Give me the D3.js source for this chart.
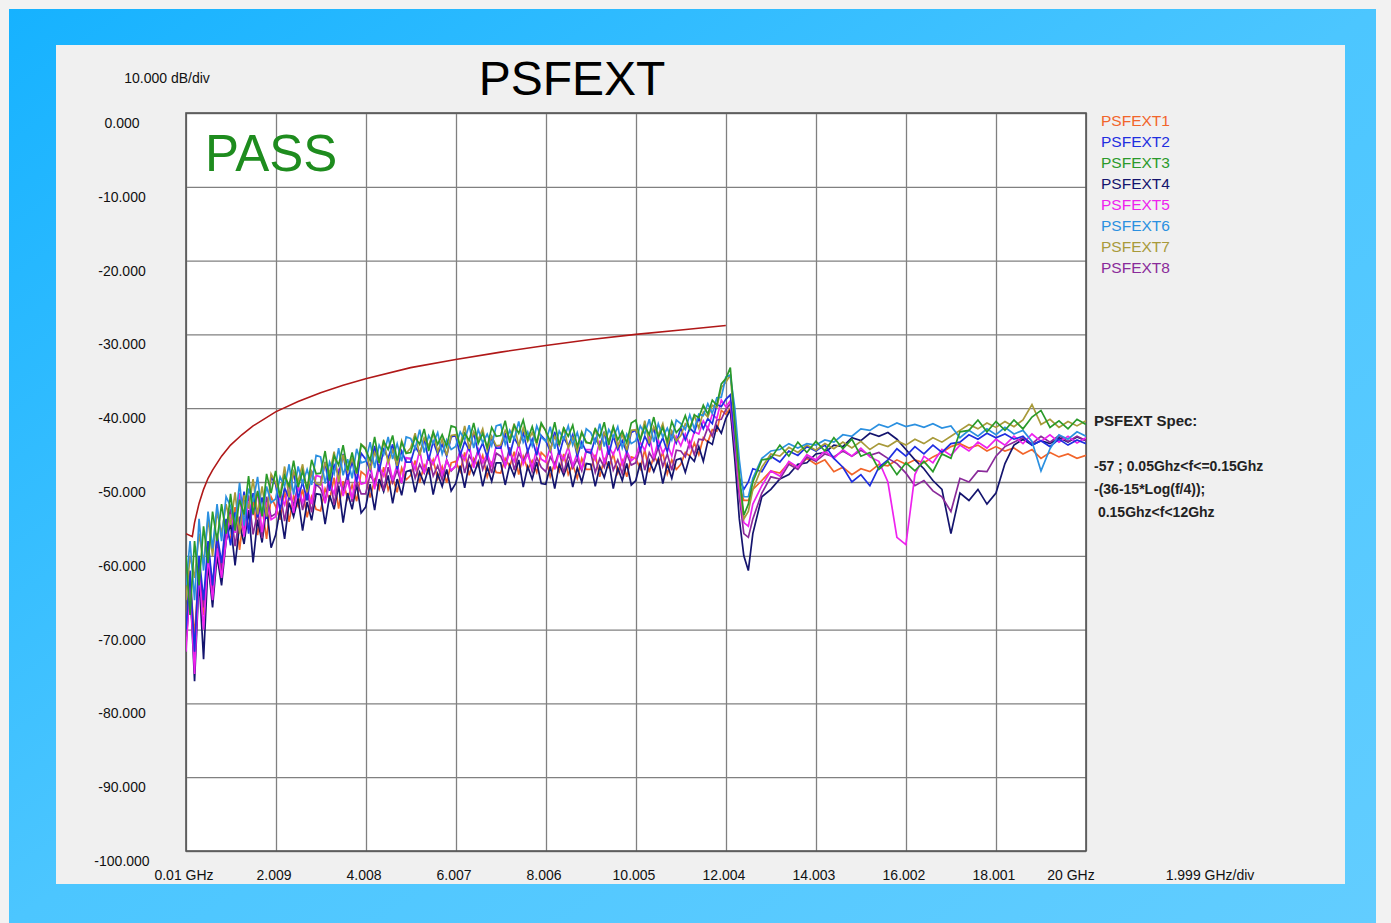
<!DOCTYPE html>
<html>
<head>
<meta charset="utf-8">
<script src="https://cdn.jsdelivr.net/npm/d3@7"></script>
<style>
  body { margin: 0; background: #f2f2f2; }
  svg { display: block; font-family: "Liberation Sans", Arial, sans-serif; }
</style>
</head>
<body>
<svg id="chart" width="1391" height="923"></svg>
<script>
// frequency grid (GHz) shared by all traces
const freqs = [0.01,0.1,0.2,0.3,0.4,0.5,0.6,0.7,0.8,0.9,
  1.0,1.1,1.2,1.3,1.4,1.5,1.6,1.7,1.8,1.9,
  2.0,2.1,2.2,2.3,2.4,2.5,2.6,2.7,2.8,2.9,
  3.0,3.1,3.2,3.3,3.4,3.5,3.6,3.7,3.8,3.9,
  4.0,4.1,4.2,4.3,4.4,4.5,4.6,4.7,4.8,4.9,
  5.0,5.1,5.2,5.3,5.4,5.5,5.6,5.7,5.8,5.9,
  6.0,6.1,6.2,6.3,6.4,6.5,6.6,6.7,6.8,6.9,
  7.0,7.1,7.2,7.3,7.4,7.5,7.6,7.7,7.8,7.9,
  8.0,8.1,8.2,8.3,8.4,8.5,8.6,8.7,8.8,8.9,
  9.0,9.1,9.2,9.3,9.4,9.5,9.6,9.7,9.8,9.9,
  10.0,10.1,10.2,10.3,10.4,10.5,10.6,10.7,10.8,10.9,
  11.0,11.1,11.2,11.3,11.4,11.5,11.6,11.7,11.8,11.9,
  12.0,12.1,12.2,12.3,12.4,12.5,12.6,12.8,13.0,13.2,
  13.4,13.6,13.8,14.0,14.2,14.4,14.6,14.8,15.0,15.2,
  15.4,15.6,15.8,16.0,16.2,16.4,16.6,16.8,17.0,17.2,
  17.4,17.6,17.8,18.0,18.2,18.4,18.6,18.8,19.0,19.2,
  19.4,19.6,19.8,20.0];

const psfext1 = [-69,-63,-71,-61,-68,-59,-64,-58,-62,-57,
  -57.7,-53.4,-59.2,-54.1,-56.1,-52.2,-57.2,-53.5,-57.7,-52,
  -53.3,-55.1,-51.2,-55.4,-51.9,-53.3,-51,-54.8,-52,-53.7,
  -53.9,-50.9,-52.4,-49.4,-53.6,-49.9,-52.3,-50.4,-52.6,-48.6,
  -49.1,-52.1,-49.7,-51,-48,-51.1,-49.4,-51.4,-48.1,-49.7,
  -49.1,-47.1,-50.1,-47.7,-48.8,-47,-49.6,-47.9,-50.1,-47.4,
  -47.2,-48.6,-46,-49.1,-46.8,-47.9,-46.4,-49.3,-47.4,-48.7,
  -48.8,-46.8,-47.9,-45.9,-49,-46.5,-48.3,-47.1,-48.7,-46,
  -46.6,-49.3,-47.4,-48.6,-46.2,-49,-47.6,-49.5,-46.8,-48.3,
  -48.3,-46.3,-49.3,-46.9,-48,-46.2,-48.8,-47.1,-49.3,-46.6,
  -46.8,-48.2,-45.6,-48.7,-46.4,-47.5,-46,-48.9,-47,-48.3,
  -47.6,-46,-46.5,-44.7,-46.3,-44,-44.6,-42.9,-43.1,-40.3,
  -40.8,-40,-45.5,-50.5,-52.5,-52.5,-51,-49.8,-48.5,-48.8,
  -47.4,-48,-46.8,-47.6,-47,-48.6,-48,-49,-48.2,-48.6,
  -47.6,-47.8,-47,-47.6,-47,-47.4,-46.6,-46,-45.2,-44.8,
  -45.4,-45,-45.8,-45.2,-45.8,-45.4,-46.2,-45.6,-46.8,-46,
  -46.6,-46.2,-46.8,-46.4];

const psfext2 = [-70,-62,-73,-60,-66,-58,-64,-57,-61,-55,
  -58.6,-54.1,-55.8,-51.3,-57,-51.5,-54.8,-52.1,-55,-49.3,
  -50.3,-53.8,-50.8,-52.2,-48.6,-52.2,-50,-52.5,-48.5,-50.4,
  -50.3,-47.3,-51.2,-47.7,-49,-46.2,-49.7,-47.2,-50,-46.1,
  -46.9,-48.4,-45.1,-48.6,-45.6,-46.8,-44.9,-48.3,-45.8,-47.3,
  -47.3,-45.2,-46.2,-44.1,-47.1,-44.5,-46.2,-44.9,-46.5,-43.9,
  -43.7,-46.4,-44.5,-45.7,-43.3,-46.1,-44.7,-46.6,-43.9,-45.4,
  -45.4,-43.4,-46.4,-44,-45.1,-43.3,-45.9,-44.2,-46.4,-43.7,
  -44.4,-45.8,-43.2,-46.3,-44,-45.1,-43.6,-46.5,-44.6,-45.9,
  -46.1,-44.1,-45.2,-43.2,-46.3,-43.8,-45.6,-44.4,-46,-43.3,
  -43,-45.7,-43.8,-45,-42.6,-45.4,-44,-45.9,-43.2,-44.7,
  -42.7,-44.3,-42.7,-43.3,-41.3,-42.8,-41.4,-42.1,-39.5,-39.8,
  -38.8,-38.2,-44,-49.5,-51,-50,-48.2,-48.6,-46.5,-47.3,
  -45.8,-46.4,-45.2,-45.8,-45,-46.8,-48,-50,-49,-50.5,
  -48,-47,-45.5,-46.5,-45.2,-46.2,-45,-46,-44.8,-44.6,
  -43.6,-44.2,-43.4,-44,-43.5,-44.2,-43.8,-45,-44.4,-45.2,
  -44.2,-45,-44.3,-44.8];

const psfext3 = [-60,-68,-58,-64,-56,-61,-54,-58,-53,-57,
  -51.6,-56.6,-52.4,-54.4,-49.2,-54.4,-51.2,-54.6,-48.9,-51.5,
  -48.5,-52.1,-49.1,-50.6,-47.1,-50.7,-48.5,-51,-47,-48.9,
  -48.8,-45.8,-49.8,-46.4,-47.7,-45,-48.4,-46,-48.8,-44.9,
  -45.6,-47.1,-43.9,-47.4,-44.5,-45.6,-43.7,-47.1,-44.6,-46.1,
  -46,-43.9,-44.9,-42.8,-45.8,-43.2,-44.9,-43.6,-45.2,-42.4,
  -42.6,-45.3,-43.4,-44.4,-42,-44.8,-43.4,-45.3,-42.6,-43.8,
  -43.7,-41.7,-44.7,-42.3,-43.4,-41.6,-44.2,-42.5,-44.7,-42,
  -43.1,-44.5,-41.9,-45,-42.7,-43.8,-42.3,-45.2,-43.3,-44.6,
  -44.8,-42.8,-43.9,-41.9,-45,-42.5,-44.3,-43.1,-44.7,-42,
  -41.6,-44.3,-42.4,-43.6,-41.2,-44,-42.6,-44.5,-41.8,-43.3,
  -42.6,-41,-42.9,-40.9,-41.3,-39.6,-40.8,-38.9,-39.6,-36.7,
  -36,-34.5,-42,-49,-54.5,-53,-50,-47,-46.8,-45,
  -46.5,-44.6,-46,-44.5,-45.8,-44,-45.5,-44.2,-46.5,-46,
  -48.3,-47.2,-49,-47.4,-48.5,-47.2,-48.6,-46.2,-46.8,-43.2,
  -43,-41.6,-43.2,-41.8,-43,-41.6,-42.8,-41.2,-40.3,-42.6,
  -41.7,-42.8,-41.5,-42.2];

const psfext4 = [-72,-64,-77,-63,-74,-61,-67,-60,-64,-58,
  -55.6,-61.3,-55.7,-58.4,-53.8,-60.9,-55.1,-58.2,-53.4,-58.9,
  -57.2,-53.7,-57.7,-52.8,-54.7,-52.2,-56.6,-52.7,-55.2,-51.6,
  -51.7,-55.7,-51.8,-53.7,-50.5,-55.5,-51.5,-53.7,-50.3,-54.2,
  -53.4,-50.3,-53.8,-49.6,-51.3,-49.1,-52.9,-49.6,-51.8,-48.6,
  -48.4,-51.4,-48.7,-50.2,-48,-51.7,-48.9,-50.6,-48.3,-51.2,
  -50.2,-47.8,-50.8,-47.5,-49,-47.3,-50.6,-48,-49.9,-47.4,
  -47.4,-50.4,-47.7,-49.2,-47,-50.7,-47.9,-49.6,-47.3,-50.2,
  -50.3,-47.9,-50.9,-47.6,-49.1,-47.4,-50.7,-48.1,-50,-47.5,
  -47.6,-50.6,-47.9,-49.4,-47.2,-50.9,-48.1,-49.8,-47.5,-50.4,
  -49.8,-47.4,-50.4,-47.1,-48.6,-46.9,-50.2,-47.6,-49.5,-47,
  -46.8,-48.7,-46.5,-47.2,-45.2,-47.2,-44.5,-44.9,-42.4,-43.4,
  -41.4,-40.2,-47,-55,-60,-62,-57,-52,-51,-49.6,
  -49,-47.6,-47.4,-46.2,-46,-45,-45.2,-44,-44.4,-43.4,
  -43.8,-43.3,-44.2,-45.6,-47,-48.2,-49.8,-51,-57,-51.5,
  -52.5,-51,-53,-51.5,-47.5,-45,-44.2,-45,-44.4,-44.8,
  -44,-44.6,-43.9,-44.4];

const psfext5 = [-73,-64,-76,-62,-70,-60,-66,-59,-63,-58,
  -54.4,-56.9,-51.5,-57.4,-52.6,-54.5,-51.3,-56.8,-52.8,-55.1,
  -54.7,-51.7,-53.1,-50.1,-54.2,-50.5,-52.8,-50.9,-53,-49.1,
  -49.3,-52.9,-50.1,-51.6,-48.2,-51.9,-49.8,-52.3,-48.4,-50.3,
  -50.1,-47.5,-51,-47.9,-49.2,-46.8,-49.8,-47.6,-50.1,-46.7,
  -46.9,-48.3,-45.7,-48.8,-46.5,-47.6,-46.1,-49,-47.1,-48.4,
  -47.9,-45.9,-47,-45,-48.1,-45.6,-47.4,-46.2,-47.8,-45.1,
  -45.2,-47.9,-46,-47.2,-44.8,-47.6,-46.2,-48.1,-45.4,-46.9,
  -47.3,-45.3,-48.3,-45.9,-47,-45.2,-47.8,-46.1,-48.3,-45.6,
  -45.6,-47,-44.4,-47.5,-45.2,-46.3,-44.8,-47.7,-45.8,-47.1,
  -46.6,-44.6,-45.7,-43.7,-46.8,-44.3,-46.1,-44.9,-46.5,-43.8,
  -45.1,-43.5,-45.3,-43.2,-43.5,-41.7,-42.8,-40.8,-41.4,-38.9,
  -39.8,-39,-44.5,-51,-55.5,-56,-53,-50.5,-48.5,-49.2,
  -47.2,-48,-46.3,-47,-45.8,-46.8,-45.6,-46.5,-45.4,-46.6,
  -47.2,-50,-57.5,-58.5,-49,-46.5,-47.4,-45.6,-46.4,-45,
  -45.8,-44.6,-45.4,-44.2,-45,-43.8,-44.8,-43.5,-44.5,-43.6,
  -44.6,-43.8,-44.7,-44];

const psfext6 = [-64,-58,-66,-55,-62,-54,-59,-53,-58,-52,
  -53.3,-55.7,-50.1,-55.9,-50.9,-52.7,-49.3,-54.7,-50.6,-52.8,
  -52.3,-49.3,-50.6,-47.6,-51.7,-47.9,-50.2,-48.3,-50.4,-46.4,
  -46.6,-50.2,-47.3,-48.9,-45.4,-49.1,-46.9,-49.5,-45.5,-47.4,
  -47.2,-44.6,-48.1,-45,-46.3,-43.9,-46.9,-44.8,-47.2,-43.9,
  -44.1,-45.5,-42.9,-46,-43.7,-44.8,-43.3,-46.2,-44.3,-45.6,
  -45.2,-43.2,-44.3,-42.3,-45.4,-42.9,-44.7,-43.5,-45.1,-42.4,
  -42.2,-44.9,-43,-44.2,-41.8,-44.6,-43.2,-45.1,-42.4,-43.9,
  -44.5,-42.5,-45.5,-43.1,-44.2,-42.4,-45,-43.3,-45.5,-42.8,
  -43.3,-44.7,-42.1,-45.2,-42.9,-44,-42.5,-45.4,-43.5,-44.8,
  -44.4,-42.4,-43.5,-41.5,-44.6,-42.1,-43.9,-42.7,-44.3,-41.6,
  -42.1,-42.9,-40.9,-42.8,-40.8,-41,-39.4,-40.7,-38.6,-38.5,
  -35.8,-35.5,-40,-47,-52,-52,-49.5,-46.8,-45.8,-45.6,
  -44.8,-45.4,-44.8,-45,-44.3,-44.6,-43.6,-43.8,-42.8,-43,
  -42.2,-42.6,-42,-42.5,-42.2,-42.6,-42.1,-42.7,-42.4,-44,
  -43,-43.8,-42.8,-43.6,-42.6,-43.5,-43,-44.5,-48.5,-45.5,
  -43.6,-44.2,-43.2,-43.8];

const psfext7 = [-66,-60,-63,-57,-61,-55,-60,-54,-57,-53,
  -55.8,-51.4,-57,-51.8,-53.6,-49.6,-54.4,-50.6,-54.7,-48.9,
  -50.1,-51.9,-47.9,-52.1,-48.6,-49.9,-47.6,-51.4,-48.6,-50.2,
  -50.4,-47.4,-48.8,-45.9,-50,-46.3,-48.6,-46.8,-48.9,-44.9,
  -45.4,-48.4,-46,-47.3,-44.3,-47.4,-45.7,-47.8,-44.4,-46.1,
  -45.4,-43.4,-46.4,-44,-45.1,-43.3,-45.9,-44.2,-46.4,-43.7,
  -43.6,-45,-42.4,-45.5,-43.2,-44.3,-42.8,-45.7,-43.8,-45.1,
  -45,-43,-44.1,-42.1,-45.2,-42.7,-44.5,-43.3,-44.9,-42.2,
  -43,-45.7,-43.8,-45,-42.6,-45.4,-44,-45.9,-43.2,-44.7,
  -44.7,-42.7,-45.7,-43.3,-44.4,-42.6,-45.2,-43.5,-45.7,-43,
  -42.9,-44.3,-41.7,-44.8,-42.5,-43.6,-42.1,-45,-43.1,-44.4,
  -43.7,-42.1,-42.7,-41,-42.7,-40.5,-41.2,-39.6,-39.9,-37.2,
  -36.5,-35.5,-42.5,-50,-55,-54,-51,-48,-46.2,-46.5,
  -45.3,-46,-45,-45.7,-44.8,-45.5,-44.6,-45.4,-44.5,-45.6,
  -44.8,-45.2,-44.4,-45,-44.2,-44.8,-44,-44.6,-43.8,-43,
  -42.2,-42.8,-42,-42.6,-41.8,-42.5,-41.6,-39.5,-42.2,-41.5,
  -42.6,-41.8,-42.4,-41.7];

const psfext8 = [-70,-65,-74,-61,-67,-60,-65,-58,-62,-57,
  -53.6,-58.7,-54.7,-56.8,-51.8,-57.1,-54.1,-57.6,-52,-54.7,
  -54.3,-51.3,-55.3,-51.8,-53.1,-50.4,-53.8,-51.3,-54.1,-50.3,
  -50.9,-52.7,-48.9,-53.1,-49.7,-51.1,-48.9,-52.7,-50,-51.6,
  -51.6,-49,-50.2,-47.6,-51.2,-48,-50.1,-48.4,-50.2,-46.8,
  -46.8,-49.5,-47.6,-48.8,-46.4,-49.2,-47.8,-49.7,-47,-48.5,
  -47.8,-45.8,-48.8,-46.4,-47.5,-45.7,-48.3,-46.6,-48.8,-46.1,
  -46.5,-47.9,-45.3,-48.4,-46.1,-47.2,-45.7,-48.6,-46.7,-48,
  -48.6,-46.6,-47.7,-45.7,-48.8,-46.3,-48.1,-46.9,-48.5,-45.8,
  -46,-48.7,-46.8,-48,-45.6,-48.4,-47,-48.9,-46.2,-47.7,
  -47.4,-45.4,-48.4,-46,-47.1,-45.3,-47.9,-46.2,-48.4,-45.7,
  -45.8,-46.6,-44.5,-46.3,-44.2,-44.3,-42.6,-43.8,-41.6,-41.5,
  -40.2,-39.4,-45.5,-52,-57,-57.5,-55,-51.5,-49.3,-49.6,
  -47.6,-48.3,-46.6,-47.2,-46.2,-46.6,-45.8,-46.5,-45.7,-46.4,
  -46,-46.8,-47.5,-48.8,-50.5,-49.8,-51.2,-52,-54,-49.5,
  -50,-48.5,-48.6,-46.5,-45.2,-44.6,-44,-44.8,-43.8,-44.6,
  -43.7,-44.5,-43.8,-44.4];

// spec limit
const specFreqs = [0.01,0.15,0.2,0.3,0.4,0.5,0.6,0.8,1.0,1.25,1.5,2.0,2.5,3.0,3.5,4.0,5.0,6.0,7.0,8.0,9.0,10.0,11.0,12.0];
const specVals  = [-57,-57.4,-55.5,-52.9,-51,-49.5,-48.4,-46.5,-45,-43.6,-42.4,-40.5,-39.1,-37.9,-36.9,-36,-34.5,-33.4,-32.4,-31.5,-30.7,-30,-29.4,-28.8];

const seriesNames  = ["PSFEXT1","PSFEXT2","PSFEXT3","PSFEXT4","PSFEXT5","PSFEXT6","PSFEXT7","PSFEXT8"];
const seriesValues = [psfext1, psfext2, psfext3, psfext4, psfext5, psfext6, psfext7, psfext8];
const seriesColors = ["#f2652a","#1f2fe0","#2a9a2a","#14146e","#ee22ee","#2b90e0","#a89a3a","#8a2a9a"];
const drawOrder    = [0, 3, 7, 4, 1, 6, 5, 2];

const xTicks = [0.01,2.009,4.008,6.007,8.006,10.005,12.004,14.003,16.002,18.001,20];
const xTickLabels = ["0.01 GHz","2.009","4.008","6.007","8.006","10.005","12.004","14.003","16.002","18.001","20 GHz"];
const yTicks = [0,-10,-20,-30,-40,-50,-60,-70,-80,-90,-100];

const specText = ["-57 ; 0.05Ghz<f<=0.15Ghz", "-(36-15*Log(f/4));", " 0.15Ghz<f<12Ghz"];

const svg = d3.select("#chart");
const plot = { left: 186, right: 1086, top: 113, bottom: 851 };

const x = d3.scaleLinear().domain([0.01, 20]).range([plot.left, plot.right]);
const y = d3.scaleLinear().domain([-100, 0]).range([plot.bottom, plot.top]);

// frame
const defs = svg.append("defs");
const grad = defs.append("linearGradient").attr("id", "frameGrad")
  .attr("x1", "0").attr("y1", "0").attr("x2", "1").attr("y2", "1");
grad.append("stop").attr("offset", "0%").attr("stop-color", "#16b2ff");
grad.append("stop").attr("offset", "50%").attr("stop-color", "#4cc6ff");
grad.append("stop").attr("offset", "100%").attr("stop-color", "#62cdff");
const clip = defs.append("clipPath").attr("id", "plotClip");
clip.append("rect").attr("x", plot.left).attr("y", plot.top)
  .attr("width", plot.right - plot.left).attr("height", plot.bottom - plot.top);

svg.append("rect").attr("x", 9).attr("y", 9).attr("width", 1367).attr("height", 914)
  .attr("fill", "url(#frameGrad)");
svg.append("rect").attr("x", 56).attr("y", 45).attr("width", 1289).attr("height", 839)
  .attr("fill", "#f0f0f0");

svg.append("rect").attr("x", plot.left).attr("y", plot.top)
  .attr("width", plot.right - plot.left).attr("height", plot.bottom - plot.top)
  .attr("fill", "#ffffff");

// grid
svg.append("g")
  .attr("transform", `translate(0,${plot.bottom})`)
  .call(d3.axisBottom(x).tickValues(xTicks).tickSize(-(plot.bottom - plot.top)).tickFormat(""))
  .call(g => g.select(".domain").remove())
  .call(g => g.selectAll("line").attr("stroke", "#808080").attr("stroke-width", 1.3));
svg.append("g")
  .attr("transform", `translate(${plot.left},0)`)
  .call(d3.axisLeft(y).tickValues(yTicks).tickSize(-(plot.right - plot.left)).tickFormat(""))
  .call(g => g.select(".domain").remove())
  .call(g => g.selectAll("line").attr("stroke", "#808080").attr("stroke-width", 1.3));

svg.append("rect").attr("x", plot.left).attr("y", plot.top)
  .attr("width", plot.right - plot.left).attr("height", plot.bottom - plot.top)
  .attr("fill", "none").attr("stroke", "#555").attr("stroke-width", 1.6);

// traces
const line = d3.line().x(d => x(d[0])).y(d => y(d[1]));
const traces = svg.append("g").attr("clip-path", "url(#plotClip)");
drawOrder.forEach(i => {
  const vals = seriesValues[i];
  const n = Math.min(freqs.length, vals.length);
  traces.append("path")
    .datum(freqs.slice(0, n).map((f, k) => [f, vals[k]]))
    .attr("fill", "none")
    .attr("stroke", seriesColors[i])
    .attr("stroke-width", 1.7)
    .attr("d", line);
});

traces.append("path")
  .datum(specFreqs.map((f, k) => [f, specVals[k]]))
  .attr("fill", "none")
  .attr("stroke", "#b01818")
  .attr("stroke-width", 1.6)
  .attr("d", line);

// axis labels
svg.append("g").selectAll("text").data(yTicks).join("text")
  .attr("x", 122).attr("y", d => y(d) + 15)
  .attr("text-anchor", "middle").attr("font-size", 14).attr("fill", "#111")
  .text(d => d.toFixed(3));

svg.append("g").selectAll("text").data(xTicks).join("text")
  .attr("x", (d, i) => x(d) + (i === xTicks.length - 1 ? -15 : -2))
  .attr("y", 880)
  .attr("text-anchor", "middle").attr("font-size", 14).attr("fill", "#111")
  .text((d, i) => xTickLabels[i]);

svg.append("text").attr("x", 1210).attr("y", 880).attr("text-anchor", "middle")
  .attr("font-size", 14).attr("fill", "#111").text("1.999 GHz/div");
svg.append("text").attr("x", 167).attr("y", 83).attr("text-anchor", "middle")
  .attr("font-size", 14).attr("fill", "#111").text("10.000 dB/div");

// title and pass mark
svg.append("text").attr("x", 572).attr("y", 95).attr("text-anchor", "middle")
  .attr("font-size", 48).attr("fill", "#000").text("PSFEXT");
svg.append("text").attr("x", 205).attr("y", 171)
  .attr("font-size", 51).attr("fill", "#1e8c1e").text("PASS");

// legend
svg.append("g").selectAll("text").data(seriesNames).join("text")
  .attr("x", 1101).attr("y", (d, i) => 126 + i * 21)
  .attr("font-size", 15.5).attr("fill", (d, i) => seriesColors[i])
  .text(d => d);

// spec notes
svg.append("text").attr("x", 1094).attr("y", 426)
  .attr("font-size", 15).attr("font-weight", "bold").attr("fill", "#222")
  .text("PSFEXT Spec:");
svg.append("g").selectAll("text").data(specText).join("text")
  .attr("x", 1094).attr("y", (d, i) => 471 + i * 23)
  .attr("font-size", 14).attr("font-weight", "bold").attr("fill", "#222")
  .style("white-space", "pre")
  .text(d => d);
</script>
</body>
</html>
